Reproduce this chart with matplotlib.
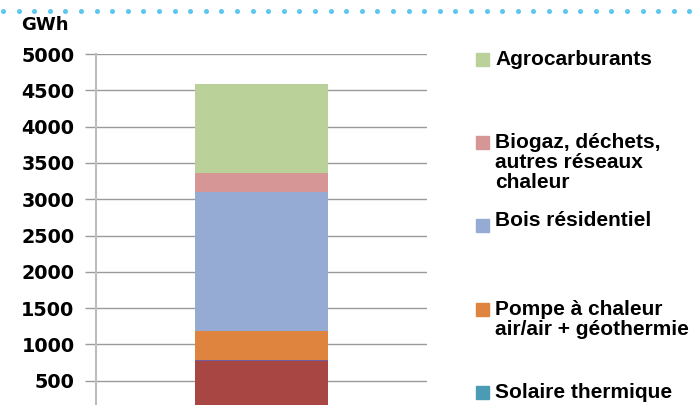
import numpy as np
import matplotlib.pyplot as plt
from matplotlib.patches import Rectangle
from matplotlib.lines import Line2D

# stack order, bottom to top (last two are below the visible legend)
segments = ["Autre (bas)", "Autre (violet)", "Solaire thermique",
            "Pompe à chaleur\nair/air + géothermie", "Bois résidentiel",
            "Biogaz, déchets,\nautres réseaux\nchaleur", "Agrocarburants"]
values = [765, 22, 5, 390, 1920, 260, 1220]
colors = ["#A84644", "#6E5E9E", "#4A9BB3", "#DF843E", "#95ABD3", "#D79696", "#BBD19A"]
yticks = [500, 1000, 1500, 2000, 2500, 3000, 3500, 4000, 4500, 5000]

fig = plt.figure(figsize=(6.93, 4.05), dpi=100)
fig.patch.set_facecolor("white")

# axes bottom (0 GWh) lies below the visible picture, as in the cropped original
ax = fig.add_axes([96 / 693, 1 - 417 / 405, 331 / 693, 363 / 405])
ax.set_axisbelow(True)

bottom = 0
for name, v, c in zip(segments, values, colors):
    ax.bar(0, v, width=0.4, bottom=bottom, color=c, edgecolor="none")
    bottom += v

ax.set_xlim(-0.5, 0.5)
ax.set_ylim(0, 5000)
ax.set_yticks(yticks)
ax.set_yticklabels([str(t) for t in yticks], fontsize=13.8, fontweight="bold",
                   family="DejaVu Sans")
ax.set_xticks([])
ax.yaxis.grid(True, color="#9a9a9a", linewidth=1)
ax.tick_params(axis="y", length=8, color="#9a9a9a", width=1, pad=7.5)
for s in ["top", "right", "bottom"]:
    ax.spines[s].set_visible(False)
ax.spines["left"].set_color("#bdbdbd")
ax.spines["left"].set_linewidth(1.5)

fig.text(21 / 693, 1 - 25 / 405, "GWh", fontsize=13, fontweight="bold",
         family="DejaVu Sans", va="center", ha="left")

# legend, drawn entry by entry (top of stack first): swatch top in pixels
swatch_top = [52.7, 135.7, 219.3, 302.7, 386]
text_top = [50, 133, 211, 300, 383]
for name, c, sq_y, ty in zip(segments[::-1][:5], colors[::-1][:5], swatch_top, text_top):
    fig.patches.append(Rectangle((476 / 693, 1 - (sq_y + 13) / 405), 13 / 693, 13 / 405,
                                 transform=fig.transFigure, color=c))
    fig.text(495 / 693, 1 - ty / 405, name, fontsize=15, fontweight="bold",
             family="Liberation Sans", va="top", ha="left", linespacing=1.07)

# dotted decorative line along the top
dots_x = np.arange(3, 693, 15.6)
fig.add_artist(Line2D(dots_x / 693, np.full(len(dots_x), 1 - 11 / 405),
                      transform=fig.transFigure, linestyle="none", marker="o",
                      markersize=3.6, color="#5BC6EE", markeredgewidth=0))

fig.savefig("out.png", dpi=100)
